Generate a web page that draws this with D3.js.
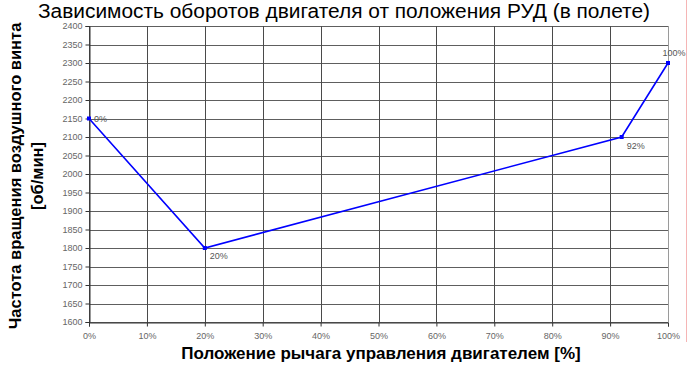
<!DOCTYPE html>
<html><head><meta charset="utf-8">
<script src="https://cdn.jsdelivr.net/npm/d3@7"></script>
<style>body{margin:0;background:#fff}svg{display:block}</style>
</head><body>
<script>
const positions = [0, 20, 92, 100];
const rpm = [2150, 1800, 2100, 2300];
const pointLabels = ["0%", "20%", "92%", "100%"];
const xTicks = [0,10,20,30,40,50,60,70,80,90,100];
const yTicks = d3.range(1600, 2401, 50);

const W = 690, H = 365;
const svg = d3.select("body").append("svg").attr("width", W).attr("height", H);
const x = d3.scaleLinear().domain([0,100]).range([89, 668]);
const y = d3.scaleLinear().domain([1600,2400]).range([322, 26]);

// red line right edge
svg.append("line").attr("x1",686.5).attr("x2",686.5).attr("y1",0).attr("y2",342)
  .attr("stroke","#f5b5b5").attr("stroke-width",1);

// grid
svg.append("g").selectAll("line").data(yTicks).join("line")
  .attr("x1",x(0)).attr("x2",x(100)).attr("y1",d=>Math.round(y(d))+0.5).attr("y2",d=>Math.round(y(d))+0.5)
  .attr("stroke","#5e5e5e").attr("stroke-width",1);
svg.append("g").selectAll("line").data(xTicks).join("line")
  .attr("y1",y(2400)).attr("y2",y(1600)).attr("x1",d=>Math.round(x(d))+0.5).attr("x2",d=>Math.round(x(d))+0.5)
  .attr("stroke",d=>d===100?"#9a9a9a":"#4a4a4a").attr("stroke-width",1);

// axes
const yAxis = d3.axisLeft(y).tickValues(yTicks).tickSize(4).tickPadding(3).tickFormat(d3.format("d"));
const gy = svg.append("g").attr("transform",`translate(${Math.round(x(0))+0.5},0)`).call(yAxis);
const xAxis = d3.axisBottom(x).tickValues(xTicks).tickSize(4).tickPadding(6).tickFormat(d=>d+"%");
const gx = svg.append("g").attr("transform",`translate(0,${Math.round(y(1600))+0.5})`).call(xAxis);
[gx,gy].forEach(g=>{
  g.select(".domain").attr("stroke","#333");
  g.selectAll(".tick line").attr("stroke","#333");
  g.selectAll("text").attr("font-family","Arial, 'Liberation Sans', sans-serif").attr("font-size",9).attr("fill","#666");
});

// line
const pts = positions.map((p,i)=>[p,rpm[i]]);
svg.append("path").datum(pts).attr("fill","none").attr("stroke","#0000ff").attr("stroke-width",1.6)
  .attr("d", d3.line().x(d=>x(d[0])).y(d=>y(d[1])));
svg.append("g").selectAll("rect").data(pts).join("rect")
  .attr("x",d=>x(d[0])-2).attr("y",d=>y(d[1])-2).attr("width",4).attr("height",4).attr("fill","#0000ff");

// point labels
const off = [[5,3,"start"],[5,11,"start"],[5,12,"start"],[6,-7,"middle"]];
svg.append("g").selectAll("text").data(pts).join("text")
  .attr("x",(d,i)=>x(d[0])+off[i][0]).attr("y",(d,i)=>y(d[1])+off[i][1])
  .attr("text-anchor",(d,i)=>off[i][2])
  .attr("font-family","Arial, 'Liberation Sans', sans-serif").attr("font-size",9).attr("fill","#555")
  .text((d,i)=>pointLabels[i]);

// title
svg.append("text").attr("x",344).attr("y",18).attr("text-anchor","middle")
  .attr("font-family","Arial, 'Liberation Sans', sans-serif").attr("font-size",20).attr("fill","#000")
  .attr("textLength",612).attr("lengthAdjust","spacingAndGlyphs")
  .text("Зависимость оборотов двигателя от положения РУД (в полете)");

// axis titles
svg.append("text").attr("x",381).attr("y",359).attr("text-anchor","middle")
  .attr("font-family","Arial, 'Liberation Sans', sans-serif").attr("font-size",17).attr("font-weight","bold")
  .text("Положение рычага управления двигателем [%]");
const yt = svg.append("text").attr("transform","translate(0,176) rotate(-90)").attr("text-anchor","middle")
  .attr("font-family","Arial, 'Liberation Sans', sans-serif").attr("font-size",16.5).attr("font-weight","bold");
yt.append("tspan").attr("x",0).attr("y",21).text("Частота вращения воздушного винта");
yt.append("tspan").attr("x",0).attr("y",43).text("[об/мин]");
</script>
</body></html>
